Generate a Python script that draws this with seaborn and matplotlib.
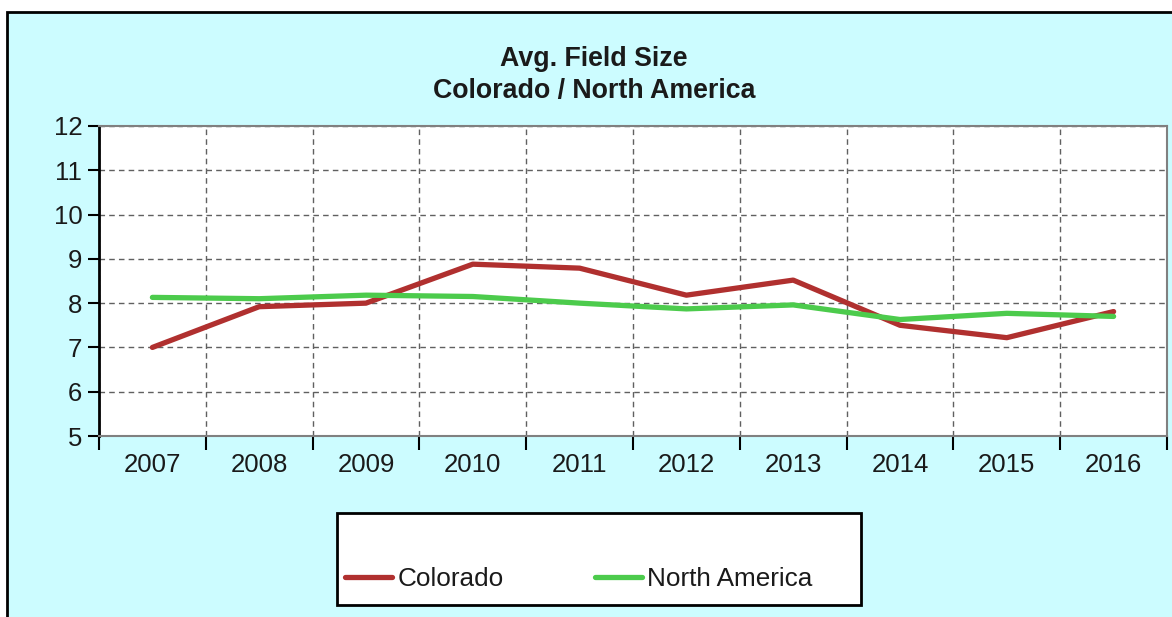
import matplotlib
matplotlib.use("Agg")
import matplotlib.pyplot as plt
from matplotlib.patches import Rectangle
import pandas as pd
import seaborn as sns

years = ["2007", "2008", "2009", "2010", "2011", "2012", "2013", "2014", "2015", "2016"]
colorado = [7.0, 7.92, 8.0, 8.88, 8.79, 8.18, 8.52, 7.5, 7.22, 7.81]
north_america = [8.13, 8.1, 8.18, 8.15, 8.0, 7.87, 7.96, 7.63, 7.77, 7.7]
series_names = ["Colorado", "North America"]
series_colors = ["#b0302f", "#4ccb4c"]

df = pd.concat([
    pd.DataFrame({"idx": range(len(years)), "value": colorado, "series": series_names[0]}),
    pd.DataFrame({"idx": range(len(years)), "value": north_america, "series": series_names[1]}),
])

sns.set_theme(style="ticks")
plt.rcParams["font.family"] = ["Liberation Sans", "DejaVu Sans"]

W, H = 1172, 617
fig = plt.figure(figsize=(W / 100, H / 100), dpi=100, facecolor="white")

# cyan panel with black border
fig.patches.append(Rectangle((7 / W, -0.05), 1.1, 1 - 12 / H + 0.05, transform=fig.transFigure,
                             facecolor="#ccfcff", edgecolor="black", linewidth=2, zorder=0))

ax = fig.add_axes([99 / W, 1 - 436 / H, (1167 - 99) / W, (436 - 126) / H])
ax.set_zorder(2)
ax.set_facecolor("white")

sns.lineplot(data=df, x="idx", y="value", hue="series", palette=series_colors,
             linewidth=3.8, ax=ax, legend=False, zorder=3)

ax.set_xlim(-0.5, len(years) - 0.5)
ax.set_ylim(5, 12)
ax.set_yticks(range(5, 13))
ax.set_xticks([i - 0.5 for i in range(len(years) + 1)])
ax.set_xticklabels([])
ax.set_xticks(range(len(years)), minor=True)
ax.set_xticklabels(years, minor=True)
ax.tick_params(axis="x", which="major", length=10, width=1.5, color="black", direction="out")
ax.tick_params(axis="x", which="minor", length=0, pad=12, labelsize=18.5, labelcolor="#1a1a1a")
ax.tick_params(axis="y", length=8, width=1.5, color="black", direction="out", pad=4,
               labelsize=18.5, labelcolor="#1a1a1a")
ax.grid(True, which="major", linestyle=(0, (4, 3)), color="#606060", linewidth=1)
ax.set_axisbelow(True)
ax.set_xlabel("")
ax.set_ylabel("")
for side in ["top", "right", "bottom"]:
    ax.spines[side].set_color("#808080")
    ax.spines[side].set_linewidth(1.5)
ax.spines["left"].set_color("black")
ax.spines["left"].set_linewidth(2)

fig.text(594 / W, 1 - 59 / H, "Avg. Field Size", ha="center", va="center",
         fontsize=19.3, fontweight="bold", color="#1a1a1a")
fig.text(594 / W, 1 - 91 / H, "Colorado / North America", ha="center", va="center",
         fontsize=19.3, fontweight="bold", color="#1a1a1a")

# legend box
fig.patches.append(Rectangle((337 / W, 1 - 605 / H), (861 - 337) / W, (605 - 513) / H,
                             transform=fig.transFigure, facecolor="white",
                             edgecolor="black", linewidth=2, zorder=1))
handles = ax.get_lines()[:2]
leg = fig.legend(handles, series_names, loc="center left",
                 bbox_to_anchor=(345 / W, 1 - 579 / H), ncol=2, frameon=False,
                 fontsize=18.8, handlelength=1.8, handletextpad=0.2, columnspacing=3.5,
                 borderpad=0, borderaxespad=0)
leg.set_zorder(6)
for t in leg.get_texts():
    t.set_color("#1a1a1a")

fig.savefig("out.png", dpi=100, facecolor=fig.get_facecolor())
